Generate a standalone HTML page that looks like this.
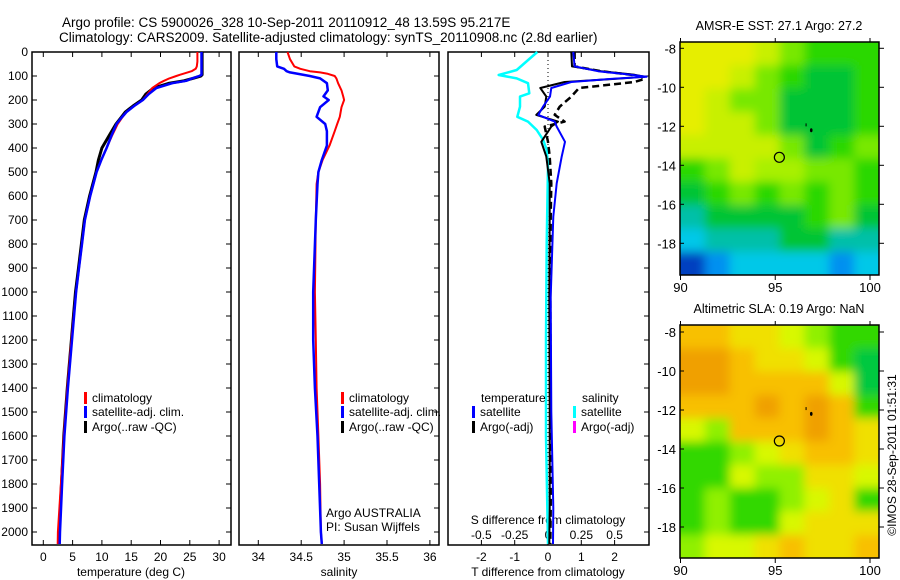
<!DOCTYPE html>
<html><head><meta charset="utf-8"><style>
html,body{margin:0;padding:0;background:#fff;}
svg{display:block;font-family:"Liberation Sans",sans-serif;}
text{font-size:12px;fill:#000;}
</style></head><body>
<svg id="fig" width="900" height="580" viewBox="0 0 900 580" xmlns="http://www.w3.org/2000/svg">
<defs>
<filter id="blur" x="-10%" y="-10%" width="120%" height="120%"><feGaussianBlur stdDeviation="5"/></filter>
<clipPath id="clipMap1"><rect x="680" y="42" width="199" height="233"/></clipPath>
<clipPath id="clipMap2"><rect x="680" y="325" width="199" height="233"/></clipPath>
</defs>
<text x="62" y="27" style="font-size:13.5px">Argo profile: CS 5900026_328 10-Sep-2011 20110912_48 13.59S 95.217E</text>
<text x="59" y="42" style="font-size:13.5px">Climatology: CARS2009. Satellite-adjusted climatology: synTS_20110908.nc (2.8d earlier)</text>
<g id="g"></g>
</svg>
<script>
// ---- profile data ----
const tDepths=[0,20,40,60,70,80,90,95,100,110,120,130,150,175,200,225,250,275,300,350,400,450,500,600,700,800,900,1000,1200,1400,1600,1800,2000,2050];
const climT=[26.3,26.3,26.3,26.2,26.0,25.3,24.0,23.3,22.7,21.5,20.6,19.8,18.6,17.8,17.0,15.5,14.2,13.4,12.7,11.7,10.8,9.9,9.1,8.0,7.1,6.6,6.1,5.6,4.8,4.1,3.5,3.0,2.5,2.45];
const satT=[27,27,27,27,27,27,27,27,26.6,25.4,24.4,22.0,19.3,18.0,17.0,15.5,14.2,13.3,12.5,11.6,10.8,9.9,9.1,8.0,7.1,6.6,6.1,5.6,4.9,4.2,3.6,3.2,2.85,2.8];
const argoT=[27.1,27.1,27.1,27.1,27.1,27.1,27.1,27.1,26.9,25.5,24.0,21.5,18.8,17.5,16.8,15.3,14.0,13.2,12.4,11.2,10.0,9.4,9.0,7.9,7.0,6.5,6.0,5.5,4.8,4.1,3.5,3.1,2.7,2.7];
const sDepths=[0,30,60,70,80,85,90,100,110,130,160,185,200,230,270,300,330,390,450,500,550,700,1000,1200,1400,1600,1800,2000,2050];
const climS=[34.34,34.37,34.42,34.49,34.6,34.72,34.8,34.89,34.91,34.93,34.97,34.99,35.0,34.97,34.95,34.92,34.89,34.83,34.75,34.7,34.68,34.67,34.66,34.67,34.68,34.7,34.72,34.73,34.74];
const satS=[34.21,34.21,34.22,34.3,34.33,34.37,34.45,34.6,34.72,34.8,34.81,34.76,34.82,34.72,34.68,34.78,34.8,34.8,34.74,34.7,34.69,34.67,34.64,34.64,34.66,34.69,34.71,34.73,34.74];
const dDepths=[0,60,80,95,103,112,125,150,186,228,262,290,311,374,436,547,686,1019,1500,1900,2050];
const satDT=[0.76,0.8,1.5,2.5,2.96,1.9,0.7,0.1,0.06,-0.15,-0.29,0.2,0.26,0.51,0.41,0.26,0.16,0.08,0.1,0.16,0.15];
const argoDT=[0.7,0.72,1.6,2.6,2.9,2.0,0.5,-0.23,-0.05,-0.1,-0.35,0.3,0.1,-0.2,-0.05,0.05,0.05,0.04,0.05,0.05,0.04];
const argoDTraw=[0.8,0.8,1.6,2.5,2.8,2.9,2.6,0.93,0.7,0.35,0.2,0.5,-0.1,0.0,0.05,0.1,0.08,0.07,0.08,0.08,0.07];
const csDepths=[0,75,96,110,130,172,186,228,270,290,325,367,408,477,800,1200,1600,2050];
const satDS=[-0.08,-0.235,-0.37,-0.235,-0.15,-0.14,-0.21,-0.21,-0.23,-0.15,-0.085,-0.035,-0.01,0,-0.01,-0.015,-0.015,0];
const depthTicks=[0,100,200,300,400,500,600,700,800,900,1000,1100,1200,1300,1400,1500,1600,1700,1800,1900,2000];
const tempTicks=[0,5,10,15,20,25,30];
const salTicks=[34,34.5,35,35.5,36];
const salTickLabels=["34","34.5","35","35.5","36"];
const dtTicks=[-2,-1,0,1,2];
const dsTicks=[-0.5,-0.25,0,0.25,0.5];
const dsTickLabels=["-0.5","-0.25","0","0.25","0.5"];
const lonTicks=[90,95,100];
const latTicks=[-8,-10,-12,-14,-16,-18];

// ---- map grids (colour codes) ----
const sstPal={Y:"#e6ee00",V:"#c8f000",K:"#a8f000",L:"#78e800",G:"#2cd800",D:"#00c434",T:"#00c0a8",C:"#00c8e8",B:"#0090f0",N:"#0040c0"};
const sstGrid=["YYYVLGGG","YYVLGDDG","YVLLDDDG","YVVLDDDG","VVVVLDGL","GLVKKLLG","DGLGLGLG","TDDDDGLD","CTTTDDTT","NBCCCCBC"];
const slaPal={O:"#f0a000",R:"#f8c000",Y:"#f0e000",V:"#d8f800",L:"#90f000",G:"#30d800",D:"#00c840"};
const slaGrid=["RRYYVLGG","OORYYVGD","OORRRRVD","RRRORORG","VLRRRORY","GGLVYRRY","GGVLLYYV","GLGGLVYG","GLGGVYYY","LVVYRYYR"];

const NS="http://www.w3.org/2000/svg";
const g=document.getElementById('g');
function el(tag,attrs,parent){const e=document.createElementNS(NS,tag);for(const k in attrs)e.setAttribute(k,attrs[k]);(parent||g).appendChild(e);return e;}
function txt(x,y,s,anchor,parent,size){const t=el('text',{x:x,y:y,'text-anchor':anchor||'start'},parent);if(size)t.style.fontSize=size+'px';t.textContent=s;return t;}

const TOP=52,BOT=545;
const yD=d=>TOP+d*0.24;
const xT=v=>43.3+v*5.86;
const xS=v=>258.3+(v-34)*85.8;
const xDT=v=>548+v*33.3;
const xDS=v=>548+v*133.3;
const panels=[[32,231],[239,439],[448,649]];

function pathFrom(xs,ds,fx){let p='';for(let i=0;i<xs.length;i++){p+=(i?'L':'M')+fx(xs[i]).toFixed(1)+','+yD(ds[i]).toFixed(1);}return p;}

depthTicks.forEach(d=>{const t=txt(28,yD(d)+4,String(d),'end');

});

panels.forEach((p,i)=>{
 const r=el('rect',{x:p[0],y:TOP,width:p[1]-p[0],height:BOT-TOP,fill:'none',stroke:'#000','stroke-width':1.5});
 
 
 depthTicks.forEach(d=>{
  el('line',{x1:p[1],x2:p[1]-5,y1:yD(d),y2:yD(d),stroke:'#000'});
  if(i===0)el('line',{x1:p[0],x2:p[0]+5,y1:yD(d),y2:yD(d),stroke:'#000'});
 });
});
function xticks(vals,labels,fx,y0,lblY){vals.forEach((v,i)=>{
 el('line',{x1:fx(v),x2:fx(v),y1:BOT,y2:BOT-5,stroke:'#000'});
 el('line',{x1:fx(v),x2:fx(v),y1:TOP,y2:TOP+5,stroke:'#000'});
 const t=txt(fx(v),lblY,labels[i],'middle');
 
 });}
xticks(tempTicks,tempTicks.map(String),xT,0,561);
xticks(salTicks,salTickLabels,xS,0,561);
xticks(dtTicks,dtTicks.map(String),xDT,0,561);
dsTicks.forEach((v,i)=>{const t=txt(xDS(v),539,dsTickLabels[i],'middle');

});

[['temperature (deg C)',131],['salinity',339],['T difference from climatology',548]].forEach(a=>{
 const t=txt(a[1],576,a[0],'middle');
 
 });
const sdt=txt(548,524,'S difference from climatology','middle');



const zl=el('line',{x1:548,x2:548,y1:TOP,y2:BOT,stroke:'#000','stroke-dasharray':'1,3'});



function series(xs,ds,fx,color,w,name,dash){
 const a={d:pathFrom(xs,ds,fx),fill:'none',stroke:color,'stroke-width':w,'stroke-linejoin':'round'};
 if(dash)a['stroke-dasharray']=dash;
 const p=el('path',a);
 
 }
series(argoT,tDepths,xT,'#000',3,'argo-temperature-line');
series(climT,tDepths,xT,'#f00',2,'climatology-temperature-line');
series(satT,tDepths,xT,'#00f',2.5,'satellite-temperature-line');
series(climS,sDepths,xS,'#f00',2,'climatology-salinity-line');
series(satS,sDepths,xS,'#00f',2.5,'satellite-salinity-line');
series(satDS,csDepths,xDS,'#00ffff',2.5,'satellite-salinity-diff-line');
series(argoDTraw,dDepths,xDT,'#000',2.5,'argo-raw-temp-diff-line','7,4');
series(argoDT,dDepths,xDT,'#000',2,'argo-temp-diff-line');
series(satDT,dDepths,xDT,'#00f',2,'satellite-temp-diff-line');

function legend(x,y,color,label,name){
 const m=el('rect',{x:x,y:y-10,width:3,height:12,fill:color});
 
 
 const t=txt(x+8,y,label);
 
 }
[[84,'legend-1'],[341,'legend-2']].forEach(a=>{
 legend(a[0],402,'#f00','climatology',a[1]+'-climatology');
 legend(a[0],416,'#00f','satellite-adj. clim.',a[1]+'-satellite');
 legend(a[0],431,'#000','Argo(..raw -QC)',a[1]+'-argo');});
const lt=txt(481,402,'temperature');
const ls=txt(582,402,'salinity');
legend(472,416,'#00f','satellite','legend-3-temp-satellite');
legend(472,431,'#000','Argo(-adj)','legend-3-temp-argo');
legend(573,416,'#00ffff','satellite','legend-3-sal-satellite');
legend(573,431,'#ff00ff','Argo(-adj)','legend-3-sal-argo');
const a1=txt(326,517,'Argo AUSTRALIA');
const a2=txt(326,531,'PI: Susan Wijffels');

const xLon=lon=>680.5+(lon-90)*18.95;
function drawMap(y0,latM8,grid,pal,clip,title,name){
 const yLat=lat=>latM8+(-8-lat)*19.5;
 const cg=el('g',{'clip-path':'url(#'+clip+')'});
 const bg=el('g',{filter:'url(#blur)'},cg);
 const cw=199/8,ch=233/10;
 grid.forEach((row,r)=>{for(let c=0;c<8;c++){
  let x=680+c*cw,y=y0+r*ch,w=cw+1,h=ch+1;
  if(c===0){x-=15;w+=15;} if(c===7)w+=15; if(r===0){y-=15;h+=15;} if(r===9)h+=15;
  const cell=el('rect',{x:x,y:y,width:w,height:h,fill:pal[row[c]]},bg);
  
  }});
 const fr=el('rect',{x:680,y:y0,width:199,height:233,fill:'none',stroke:'#000','stroke-width':1.5});
 
 
 lonTicks.forEach(l=>{el('line',{x1:xLon(l),x2:xLon(l),y1:y0+233,y2:y0+238,stroke:'#000'});
  el('line',{x1:xLon(l),x2:xLon(l),y1:y0,y2:y0-4,stroke:'#000'});
  const t=txt(xLon(l),y0+250,String(l),'middle',null,13);});
 latTicks.forEach(l=>{el('line',{x1:879,x2:884,y1:yLat(l),y2:yLat(l),stroke:'#000'});
  el('line',{x1:680,x2:684,y1:yLat(l),y2:yLat(l),stroke:'#000'});
  const t=txt(676,yLat(l)+5,String(l),'end',null,13);});
 const c=el('circle',{cx:xLon(95.217),cy:yLat(-13.59),r:5,fill:'none',stroke:'#000','stroke-width':1.2});
 
 el('ellipse',{cx:xLon(96.9),cy:yLat(-12.2),rx:1.3,ry:2,fill:'#000'});
 el('rect',{x:xLon(96.6),y:yLat(-11.85),width:1,height:3,fill:'#000'});
 const t=txt(779,y0-12,title,'middle',null,12.5);
}
drawMap(42,48.3,sstGrid,sstPal,'clipMap1','AMSR-E SST: 27.1 Argo: 27.2','sst-map');
drawMap(325,332,slaGrid,slaPal,'clipMap2','Altimetric SLA: 0.19 Argo: NaN','sla-map');
const cr=txt(0,0,'©IMOS 28-Sep-2011 01:51:31','middle',null,12);
cr.setAttribute('transform','translate(896,455) rotate(-90)');


</script>
</body></html>
